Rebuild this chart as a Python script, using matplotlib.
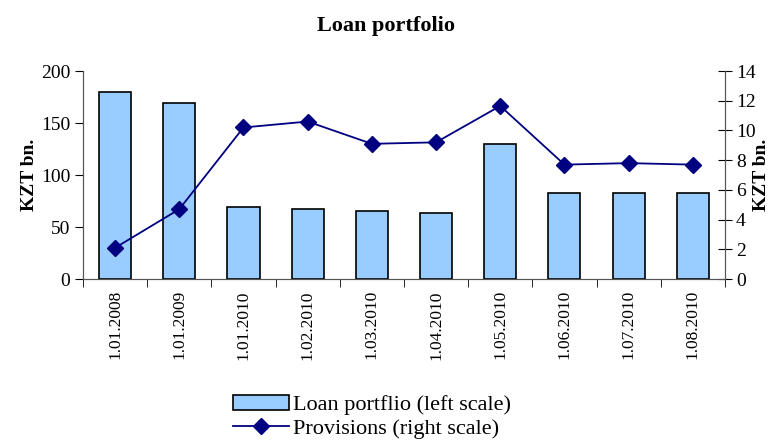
import numpy as np
import matplotlib.pyplot as plt

plt.rcParams['font.family'] = ['Liberation Serif', 'DejaVu Serif']

dates = ["1.01.2008", "1.01.2009", "1.01.2010", "1.02.2010", "1.03.2010",
         "1.04.2010", "1.05.2010", "1.06.2010", "1.07.2010", "1.08.2010"]
loans = [180, 169, 69, 67, 65, 63.5, 130, 83, 83, 83]
provisions = [2.1, 4.7, 10.2, 10.6, 9.1, 9.2, 11.65, 7.7, 7.8, 7.7]

fig = plt.figure(figsize=(7.72, 4.45), dpi=100)
ax = fig.add_axes([0.1075, 0.373, 0.8315, 0.4674])
ax2 = ax.twinx()

x = np.arange(len(dates))
bars = ax.bar(x, loans, width=0.5, color='#99ccff', edgecolor='black', linewidth=1.2,
              label='Loan portflio (left scale)')
line, = ax2.plot(x, provisions, color='#000080', marker='D', markersize=8, linewidth=1.3,
                 label='Provisions (right scale)')

ax.set_xlim(-0.5, len(dates) - 0.5)
ax.set_ylim(0, 200)
ax.set_yticks(range(0, 201, 50))
ax2.set_ylim(0, 14)
ax2.set_yticks(range(0, 15, 2))

ax.set_xticks(x)
ax.set_xticklabels(dates, rotation=90, fontsize=12.5)
ax.set_xticks(np.arange(-0.5, len(dates), 1), minor=True)
ax.tick_params(axis='x', which='major', length=0, pad=8)
ax.tick_params(axis='x', which='minor', length=6, direction='out', color='black')
ax.tick_params(axis='y', labelsize=14, length=6, direction='out', pad=3)
ax2.tick_params(axis='y', labelsize=14, length=10, direction='inout', pad=3)

for a in (ax, ax2):
    a.spines['top'].set_visible(False)
    for s in ('left', 'right', 'bottom'):
        a.spines[s].set_color('#555555')

ax.set_ylabel('KZT bn.', fontsize=14, fontweight='bold', labelpad=2)
ax2.set_ylabel('KZT bn.', fontsize=14, fontweight='bold', rotation=90, labelpad=-2)

fig.suptitle('Loan portfolio', fontsize=16, fontweight='bold', y=0.965)

fig.legend(handles=[bars, line], loc='upper left', bbox_to_anchor=(0.288, 0.138),
           frameon=False, fontsize=16, handlelength=2.5, handletextpad=0.2,
           labelspacing=0.15, borderpad=0)

fig.savefig('out.png', dpi=100)
